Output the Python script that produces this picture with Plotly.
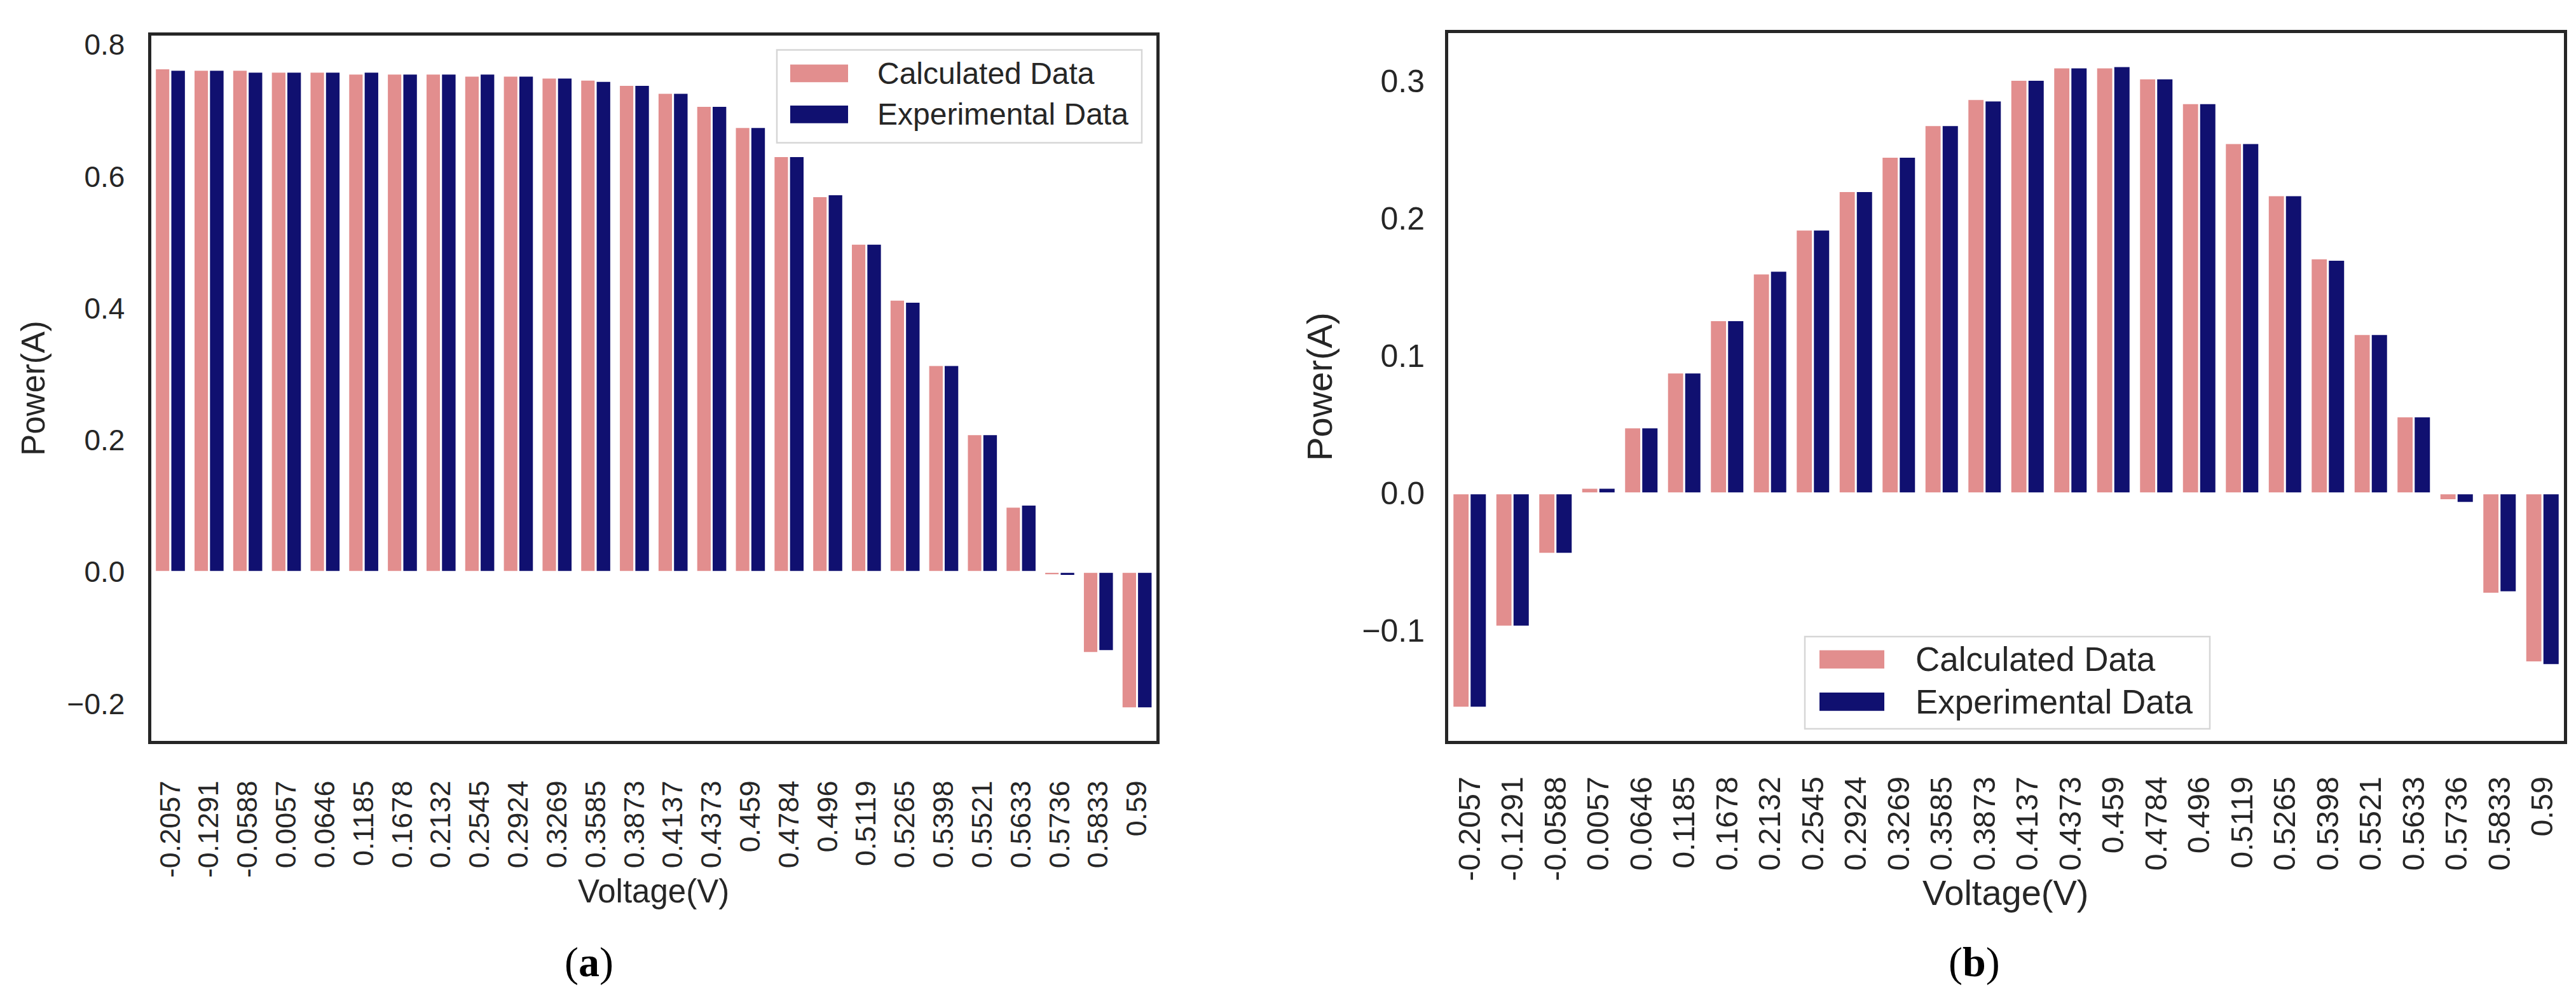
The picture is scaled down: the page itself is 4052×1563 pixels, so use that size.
import plotly.graph_objects as go

W, H = 4052, 1563

# ---------------- data ----------------
voltage = ["-0.2057", "-0.1291", "-0.0588", "0.0057", "0.0646", "0.1185", "0.1678",
           "0.2132", "0.2545", "0.2924", "0.3269", "0.3585", "0.3873", "0.4137",
           "0.4373", "0.459", "0.4784", "0.496", "0.5119", "0.5265", "0.5398",
           "0.5521", "0.5633", "0.5736", "0.5833", "0.59"]

calc_a = [0.764, 0.762, 0.762, 0.759, 0.759, 0.756, 0.756, 0.756, 0.753, 0.753,
          0.750, 0.747, 0.739, 0.727, 0.707, 0.675, 0.631, 0.570, 0.498, 0.413,
          0.314, 0.209, 0.099, -0.005, -0.123, -0.207]
exp_a = [0.762, 0.762, 0.759, 0.759, 0.759, 0.759, 0.756, 0.756, 0.756, 0.753,
         0.750, 0.745, 0.739, 0.727, 0.707, 0.675, 0.631, 0.573, 0.498, 0.410,
         0.314, 0.209, 0.102, -0.006, -0.120, -0.207]

calc_b = [-0.156, -0.097, -0.044, 0.004, 0.048, 0.088, 0.126, 0.160, 0.192, 0.220,
          0.245, 0.268, 0.287, 0.301, 0.310, 0.310, 0.302, 0.284, 0.255, 0.217,
          0.171, 0.116, 0.056, -0.005, -0.073, -0.123]
exp_b = [-0.156, -0.097, -0.044, 0.004, 0.048, 0.088, 0.126, 0.162, 0.192, 0.220,
         0.245, 0.268, 0.286, 0.301, 0.310, 0.311, 0.302, 0.284, 0.255, 0.217,
         0.170, 0.116, 0.056, -0.007, -0.072, -0.125]

ticks_a = [-0.2, 0.0, 0.2, 0.4, 0.6, 0.8]
ticks_b = [-0.1, 0.0, 0.1, 0.2, 0.3]

series_names = ["Calculated Data", "Experimental Data"]
x_title = "Voltage(V)"
y_title = "Power(A)"
captions = ["a", "b"]

# ---------------- style ----------------
PINK = "#E28E8E"
NAVY = "#101070"
INK = "#262626"
FONT = "Liberation Sans, Arial, Helvetica, sans-serif"
SERIF = "Liberation Serif, Times New Roman, serif"


def px(x):
    return x / W


def py(y):
    return 1 - y / H


fig = go.Figure()

panels = [
    dict(calc=calc_a, exp=exp_a, xa="x", ya="y"),
    dict(calc=calc_b, exp=exp_b, xa="x2", ya="y2"),
]
for p in panels:
    fig.add_trace(go.Bar(x=voltage, y=p["calc"], name=series_names[0],
                         marker=dict(color=PINK, line=dict(color="white", width=3)),
                         xaxis=p["xa"], yaxis=p["ya"], showlegend=False))
    fig.add_trace(go.Bar(x=voltage, y=p["exp"], name=series_names[1],
                         marker=dict(color=NAVY, line=dict(color="white", width=3)),
                         xaxis=p["xa"], yaxis=p["ya"], showlegend=False))

frame = dict(showline=True, mirror=True, linecolor=INK, linewidth=5,
             showgrid=False, zeroline=False, ticks="")

fig.update_layout(
    width=W, height=H, autosize=False,
    margin=dict(l=0, r=0, t=0, b=0),
    paper_bgcolor="white", plot_bgcolor="white",
    barmode="group", bargap=0.2, bargroupgap=0.0,
    font=dict(family=FONT, color=INK),
    xaxis=dict(domain=[px(229.6), px(1811)], anchor="y", type="category",
               tickangle=-90, tickfont=dict(size=45, color=INK),
               ticklabelstandoff=40, **frame),
    yaxis=dict(domain=[py(1153.7), py(37)], anchor="x", range=[-0.256, 0.814],
               tickvals=ticks_a, tickformat=".1f", tickfont=dict(size=46, color=INK),
               ticklabelstandoff=27, **frame),
    xaxis2=dict(domain=[px(2270), px(4025)], anchor="y2", type="category",
                tickangle=-90, tickfont=dict(size=48.5, color=INK),
                ticklabelstandoff=32, **frame),
    yaxis2=dict(domain=[py(1153.7), py(33.3)], anchor="x2", range=[-0.18, 0.335],
                tickvals=ticks_b, tickformat=".1f", tickfont=dict(size=50, color=INK),
                ticklabelstandoff=22, **frame),
)

annotations = []
shapes = []

# axis titles
for cx, cy, fs in [(1020, 1392.6, 51), (3147, 1394.7, 56)]:
    annotations.append(dict(text=x_title, x=px(cx), y=py(cy), xref="paper", yref="paper",
                            xanchor="center", yanchor="middle", showarrow=False,
                            font=dict(size=fs, color=INK, family=FONT)))
for cx, cy, fs in [(45, 596, 51), (2068, 594, 56)]:
    annotations.append(dict(text=y_title, x=px(cx), y=py(cy), xref="paper", yref="paper",
                            xanchor="center", yanchor="middle", showarrow=False, textangle=-90,
                            font=dict(size=fs, color=INK, family=FONT)))
# captions
for cap, cx in zip(captions, [918, 3097]):
    annotations.append(dict(text="(<b>%s</b>)" % cap, x=px(cx), y=py(1505), xref="paper",
                            yref="paper", xanchor="center", yanchor="middle", showarrow=False,
                            font=dict(size=66, color="black", family=SERIF)))

# legends (drawn like matplotlib legends)
legends = [
    dict(box=(1214, 60, 1788, 207), sw_x=(1235, 1326), rows=(97, 162), sw_h=28,
         tx=1370, fs=48),
    dict(box=(2831, 989, 3468, 1135), sw_x=(2854, 2956), rows=(1025, 1092), sw_h=29,
         tx=3003, fs=53),
]
for lg in legends:
    x0, y0, x1, y1 = lg["box"]
    shapes.append(dict(type="rect", xref="paper", yref="paper", x0=px(x0), x1=px(x1),
                       y0=py(y1), y1=py(y0), fillcolor="rgba(255,255,255,0.85)",
                       line=dict(color="#d6d6d6", width=2.5)))
    for name, col, ry in zip(series_names, [PINK, NAVY], lg["rows"]):
        shapes.append(dict(type="rect", xref="paper", yref="paper",
                           x0=px(lg["sw_x"][0]), x1=px(lg["sw_x"][1]),
                           y0=py(ry + lg["sw_h"] / 2), y1=py(ry - lg["sw_h"] / 2),
                           fillcolor=col, line=dict(width=0)))
        annotations.append(dict(text=name, x=px(lg["tx"]), y=py(ry), xref="paper",
                                yref="paper", xanchor="left", yanchor="middle",
                                showarrow=False,
                                font=dict(size=lg["fs"], color=INK, family=FONT)))

fig.update_layout(annotations=annotations, shapes=shapes)

fig.write_html("out.html")
